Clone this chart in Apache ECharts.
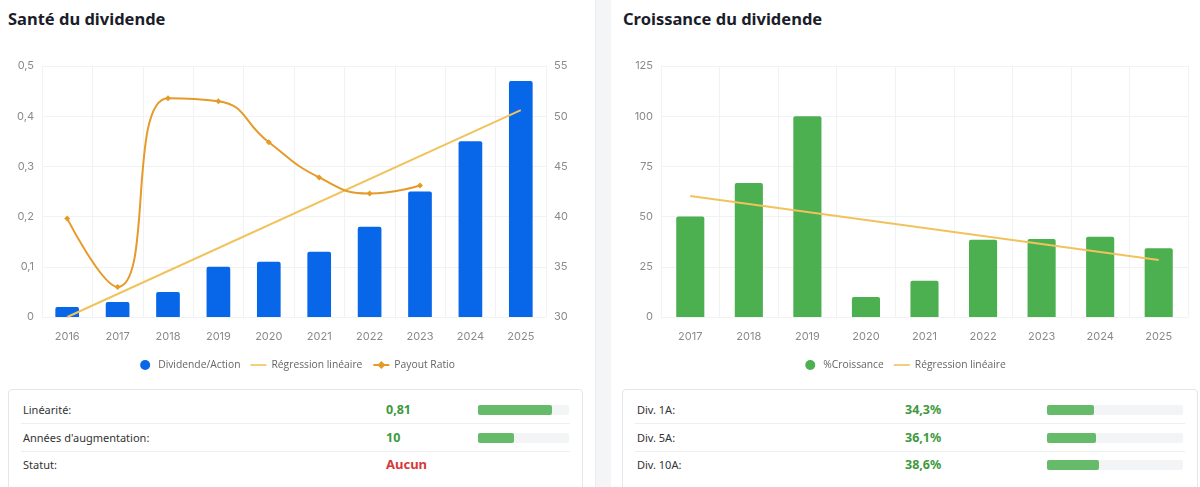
<!DOCTYPE html>
<html>
<head>
<meta charset="utf-8">
<script src="https://cdn.jsdelivr.net/npm/echarts@6/dist/echarts.min.js"></script>
<style>
body{margin:0;background:#fff;font-family:"Noto Sans","Open Sans",sans-serif;width:1200px;height:487px;overflow:hidden;position:relative}
.panel{position:absolute;top:0;height:487px;background:#fff}
.gap{position:absolute;left:595px;width:15px;top:0;height:487px;background:#f4f5f7;border-left:1px solid #eceef1}
.title{position:absolute;top:7px;font-size:16.5px;font-weight:700;color:#1b1d2a;line-height:24px}
.chart{position:absolute;top:40px;height:340px}
.box{position:absolute;top:389px;height:110px;border:1px solid #e4e6ea;border-radius:4px;background:#fff}
.row{position:absolute;left:12px;right:12px;height:27px;font-size:11px;color:#333}
.row.sep{border-bottom:1px solid #eceef0}
.row span{position:absolute;top:0;line-height:27px}
.val{font-weight:700;font-size:12.5px;color:#3d9a3d}
.val.red{color:#d43a3a;font-size:13px}
.track{position:absolute;top:9px;height:10px;background:#f3f4f5;border-radius:2px}
.fill{position:absolute;left:0;top:0;height:10px;background:#66bb6a;border-radius:2px}
</style>
</head>
<body>
<div class="panel" style="left:0;width:595px">
  <div class="title" style="left:8px">Santé du dividende</div>
  <div id="c1" class="chart" style="left:0;width:595px"></div>
  <div id="t1" class="box" style="left:8px;width:573px"></div>
</div>
<div class="gap"></div>
<div class="panel" style="left:611px;width:589px">
  <div class="title" style="left:12px">Croissance du dividende</div>
  <div id="c2" class="chart" style="left:0;width:589px"></div>
  <div id="t2" class="box" style="left:11px;width:574px"></div>
</div>
<script>
// santé du dividende
const years1 = ['2016','2017','2018','2019','2020','2021','2022','2023','2024','2025']
const dividend = [0.02, 0.03, 0.05, 0.10, 0.11, 0.13, 0.18, 0.25, 0.35, 0.47]
const payout = [39.8, 33.0, 51.8, 51.5, 47.4, 43.9, 42.3, 43.1, null, null]
const reg1 = [['2016', 0.0], ['2025', 0.412]]

// croissance du dividende
const years2 = ['2017','2018','2019','2020','2021','2022','2023','2024','2025']
const growth = [50, 66.7, 100, 10, 18, 38.5, 38.9, 40, 34.3]
const reg2 = [['2017', 60.3], ['2025', 28.4]]

// tableaux
const stats1 = [
    {label: 'Linéarité:', value: '0,81', ratio: 0.81},
    {label: "Années d'augmentation:", value: '10', ratio: 0.40},
    {label: 'Statut:', value: 'Aucun', ratio: null}
]
const stats2 = [
    {label: 'Div. 1A:', value: '34,3%', ratio: 0.343},
    {label: 'Div. 5A:', value: '36,1%', ratio: 0.361},
    {label: 'Div. 10A:', value: '38,6%', ratio: 0.386}
]

const axisText = {color: '#8a8a8a', fontSize: 11, fontFamily: 'Inter, sans-serif'}
const split = {show: true, lineStyle: {color: '#f1f2f4'}}
const legendText = {color: '#666', fontSize: 10.3, fontFamily: '"Open Sans", sans-serif'}
const lineIcon = 'path://M0,0H20V2H0Z'
const comma = v => String(v).replace('.', ',')

let chart1 = echarts.init(document.getElementById('c1'))
chart1.setOption({
    animation: false,
    grid: {left: 42, right: 49, top: 26, height: 251},
    legend: {
        bottom: 5, left: 'center', itemWidth: 16, itemHeight: 10, itemGap: 10,
        textStyle: legendText,
        data: [
            {name: 'Dividende/Action', icon: 'circle'},
            {name: 'Régression linéaire', icon: lineIcon},
            {name: 'Payout Ratio'}
        ]
    },
    xAxis: {
        type: 'category', data: years1,
        axisLine: {show: false}, axisTick: {show: false},
        axisLabel: Object.assign({margin: 14}, axisText),
        splitLine: split
    },
    yAxis: [
        {type: 'value', min: 0, max: 0.5, interval: 0.1,
         axisLabel: Object.assign({formatter: comma}, axisText), splitLine: split},
        {type: 'value', min: 30, max: 55, interval: 5,
         axisLabel: axisText, splitLine: {show: false}}
    ],
    series: [
        {
            name: 'Dividende/Action', type: 'bar', data: dividend, barWidth: '47%',
            itemStyle: {color: '#0866e9', borderRadius: [2, 2, 0, 0]}
        },
        {
            name: 'Régression linéaire', type: 'line', data: reg1, symbol: 'none',
            lineStyle: {color: '#f0c35c', width: 2}, itemStyle: {color: '#f0c35c'}
        },
        {
            name: 'Payout Ratio', type: 'line', yAxisIndex: 1, data: payout, smooth: true,
            symbol: 'diamond', symbolSize: 6,
            lineStyle: {color: '#e69a2a', width: 2}, itemStyle: {color: '#e69a2a'}
        }
    ]
})

let chart2 = echarts.init(document.getElementById('c2'))
chart2.setOption({
    animation: false,
    grid: {left: 50, right: 12, top: 26, height: 251},
    legend: {
        bottom: 5, left: 'center', itemWidth: 16, itemHeight: 10, itemGap: 10,
        textStyle: legendText,
        data: [
            {name: '%Croissance', icon: 'circle'},
            {name: 'Régression linéaire', icon: lineIcon}
        ]
    },
    xAxis: {
        type: 'category', data: years2,
        axisLine: {show: false}, axisTick: {show: false},
        axisLabel: Object.assign({margin: 14}, axisText),
        splitLine: split
    },
    yAxis: {type: 'value', min: 0, max: 125, interval: 25,
             axisLabel: axisText, splitLine: split},
    series: [
        {
            name: '%Croissance', type: 'bar', data: growth, barWidth: '48%',
            itemStyle: {color: '#4caf50', borderRadius: [2, 2, 0, 0]}
        },
        {
            name: 'Régression linéaire', type: 'line', data: reg2, symbol: 'none',
            lineStyle: {color: '#f0c35c', width: 2}, itemStyle: {color: '#f0c35c'}
        }
    ]
})

// construit les lignes des tableaux
function buildTable(id, rows, valX, trackX, trackW) {
    let box = document.getElementById(id)
    rows.forEach((r, i) => {
        let row = document.createElement('div')
        row.className = 'row' + (i < rows.length - 1 ? ' sep' : '')
        row.style.top = (6 + i * 27.5) + 'px'
        let html = `<span style="left:2px">${r.label}</span>`
        html += `<span class="val${r.ratio === null ? ' red' : ''}" style="left:${valX}px">${r.value}</span>`
        if (r.ratio !== null) {
            html += `<div class="track" style="left:${trackX}px;width:${trackW}px"><div class="fill" style="width:${Math.round(r.ratio * trackW)}px"></div></div>`
        }
        row.innerHTML = html
        box.appendChild(row)
    })
}
buildTable('t1', stats1, 365, 457, 91)
buildTable('t2', stats2, 270, 412, 136)
</script>
</body>
</html>
